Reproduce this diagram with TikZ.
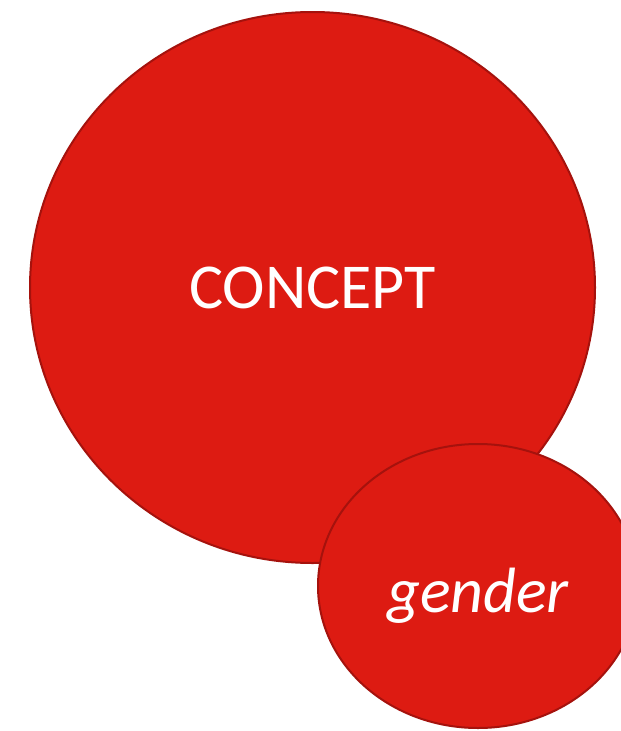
\documentclass[tikz,border=0pt]{standalone}
\usepackage{fontspec}
\setmainfont{Carlito}
\usepackage{tikz}
\usetikzlibrary{shapes.geometric}
\definecolor{bubblered}{HTML}{DD1B12}
\definecolor{bubbleedge}{HTML}{A5120D}
\tikzset{bubble/.style={ellipse, draw=bubbleedge, fill=bubblered, line width=2pt,
		inner sep=0pt, text=white, font=\fontsize{64}{72}\selectfont}}

\begin{document}
\begin{tikzpicture}[x=1pt, y=-1pt]
		\clip (0,0) rectangle (621,731);
		\fill[white] (0,0) rectangle (621,731);
		\node[bubble, minimum width=565pt, minimum height=551pt] (concept) at (312.5,287.5) {CONCEPT};
		\node[bubble, minimum width=320pt, minimum height=284pt] (gender) at (478,586) {};
		\node[text=white, font=\fontsize{64}{72}\selectfont\itshape, anchor=base] (gendertext) at (478,612) {gender};
	\end{tikzpicture}
\end{document}
